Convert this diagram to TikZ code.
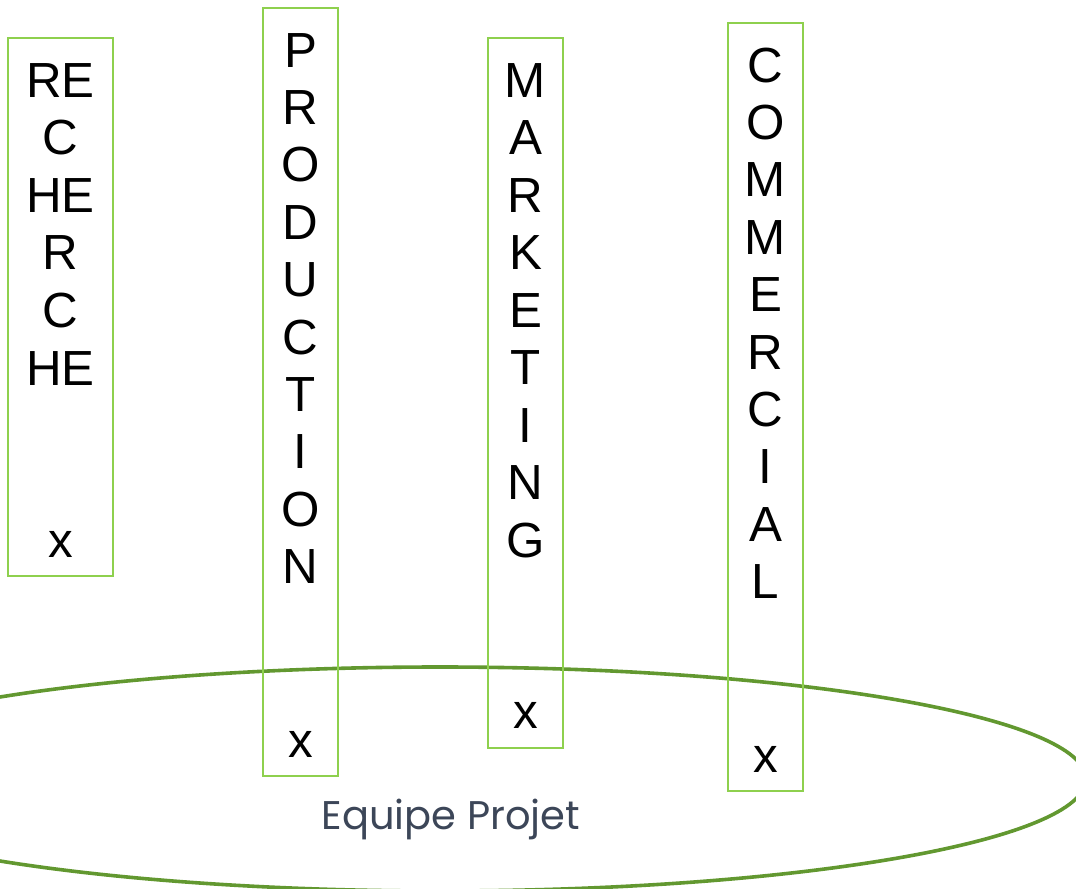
\documentclass[tikz,border=0pt]{standalone}
\usepackage{fontspec}
\setmainfont{Liberation Sans}
\newfontfamily\teamfont{Poppins}
\definecolor{boxgreen}{RGB}{142,208,78}
\definecolor{teamgreen}{RGB}{98,152,48}
\definecolor{slate}{RGB}{60,70,88}
\tikzset{
  dept/.style={draw=boxgreen, line width=1.6pt, rectangle, inner sep=0pt},
  letter/.style={anchor=base, inner sep=0pt, font=\fontsize{37}{44}\selectfont},
  team/.style={draw=teamgreen, line width=2.7pt},
  teamlabel/.style={anchor=base, inner sep=0pt, text=slate, font=\teamfont\fontsize{30}{36}\selectfont}
}
\begin{document}
\begin{tikzpicture}[x=0.75pt, y=-0.75pt]
  \useasboundingbox (0,0) rectangle (1076,889);
  \clip (0,0) rectangle (1076,889);

  % project team ellipse
  \draw[team] (440,779) ellipse [x radius=484.5pt, y radius=84pt];
  \node[teamlabel] (teamname) at (451,829) {Equipe Projet};

  % department columns
  \node[dept, minimum width=78.75pt, minimum height=403.5pt] (rech) at (60.5,307) {};
  \node[dept, minimum width=56.25pt, minimum height=576pt] (prod) at (300.5,392) {};
  \node[dept, minimum width=56.25pt, minimum height=532.5pt] (mark) at (525.5,393) {};
  \node[dept, minimum width=56.25pt, minimum height=576pt] (comm) at (765.5,407) {};

  % vertical lettering
  \foreach \t [count=\i] in {RE,C,HE,R,C,HE}
    \node[letter] (rech-\i) at (60.5,{97+57.6*(\i-1)}) {\t};
  \foreach \t [count=\i] in {P,R,O,D,U,C,T,I,O,N}
    \node[letter] (prod-\i) at (300.5,{67+57.4*(\i-1)}) {\t};
  \foreach \t [count=\i] in {M,A,R,K,E,T,I,N,G}
    \node[letter] (mark-\i) at (525.5,{97+57.5*(\i-1)}) {\t};
  \foreach \t [count=\i] in {C,O,M,M,E,R,C,I,A,L}
    \node[letter] (comm-\i) at (765.5,{82+57.4*(\i-1)}) {\t};

  % membership marks
  \node[letter] (rech-x) at (60.5,557) {x};
  \node[letter] (prod-x) at (300.5,757) {x};
  \node[letter] (mark-x) at (525.5,728) {x};
  \node[letter] (comm-x) at (765.5,772) {x};
\end{tikzpicture}
\end{document}
